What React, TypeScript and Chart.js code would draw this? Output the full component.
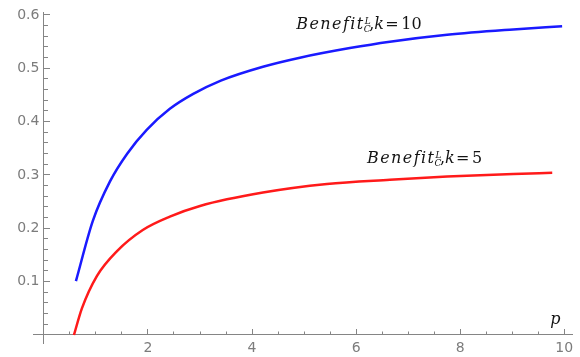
import React, { useEffect, useRef } from 'react';
import { Chart, registerables } from 'chart.js';

Chart.register(...registerables);

// ---- data ----
const pK10 = [0.615, 0.94, 1.27, 1.6, 1.98, 2.42, 2.87, 3.4, 4.21, 4.92, 5.88, 6.65, 7.75, 9.02, 9.96];
const benefitK10 = [0.101, 0.214, 0.288, 0.34, 0.385, 0.424, 0.452, 0.477, 0.503, 0.52, 0.538, 0.55, 0.563, 0.573, 0.579];

const pK5 = [0.577, 0.73, 1.02, 1.4, 1.9, 2.42, 3.0, 4.21, 5.44, 6.65, 7.75, 9.02, 9.77];
const benefitK5 = [0.0, 0.05, 0.111, 0.157, 0.197, 0.222, 0.242, 0.267, 0.283, 0.291, 0.297, 0.302, 0.304];

const xMajorTicks = [2, 4, 6, 8, 10];
const xTickLabels = ['2', '4', '6', '8', '10'];
const yMajorTicks = [0.1, 0.2, 0.3, 0.4, 0.5, 0.6];
const yTickLabels = ['0.1', '0.2', '0.3', '0.4', '0.5', '0.6'];

const seriesNumbers = ['10', '5'];
const axisTitle = 'p';

// ---- style / layout ----
const X_MIN = -0.21;
const X_MAX = 10.15;
const Y_MIN = -0.015;
const Y_MAX = 0.6056;
const AXIS_COLOR = '#858585';
const TICK_LABEL_COLOR = '#7c7c7c';
const TEXT_COLOR = '#141414';
const labelAnchors = [
  [4.85, 0.574],
  [6.21, 0.322],
];
const titleAnchor = [9.73, 0.0197];

function drawBenefit(ctx: CanvasRenderingContext2D, x: number, y: number, num: string) {
  const c: any = ctx;
  ctx.fillStyle = TEXT_COLOR;
  ctx.textAlign = 'left';
  ctx.textBaseline = 'alphabetic';
  ctx.font = 'italic 16px "DejaVu Serif"';
  c.letterSpacing = '0px';
  const w = ctx.measureText('Benefit').width;
  c.letterSpacing = ((68 - w) / 7).toFixed(2) + 'px';
  ctx.fillText('Benefit', x, y);
  c.letterSpacing = '0px';
  ctx.font = 'italic 9px "DejaVu Serif"';
  ctx.fillText('L', x + 68.5, y - 5);
  ctx.fillText('C', x + 67.5, y + 3);
  ctx.font = '16px "DejaVu Serif"';
  ctx.fillText(',', x + 73, y);
  ctx.font = 'italic 16px "DejaVu Serif"';
  ctx.fillText('k', x + 78, y);
  ctx.font = '16px "DejaVu Serif"';
  ctx.fillText('=', x + 89, y);
  ctx.fillText(num, x + 105, y);
}

const textPlugin = {
  id: 'mathText',
  afterDatasetsDraw(chart: any) {
    const ctx: CanvasRenderingContext2D = chart.ctx;
    const xs = chart.scales.x;
    const ys = chart.scales.y;
    ctx.save();
    labelAnchors.forEach((a, i) => {
      drawBenefit(ctx, xs.getPixelForValue(a[0]), ys.getPixelForValue(a[1]), seriesNumbers[i]);
    });
    ctx.font = 'italic 16px "DejaVu Serif"';
    ctx.fillStyle = TEXT_COLOR;
    ctx.textAlign = 'left';
    ctx.textBaseline = 'alphabetic';
    ctx.fillText(axisTitle, xs.getPixelForValue(titleAnchor[0]), ys.getPixelForValue(titleAnchor[1]));
    ctx.restore();
  },
};

const tickFont = { family: '"DejaVu Sans"', size: 14 };

const flatX = (s: any) => { s.height = 0; s.paddingLeft = 0; s.paddingRight = 0; s.paddingTop = 0; s.paddingBottom = 0; };
const flatY = (s: any) => { s.width = 0; s.paddingLeft = 0; s.paddingRight = 0; s.paddingTop = 0; s.paddingBottom = 0; };

export default function App() {
  const ref = useRef<HTMLCanvasElement | null>(null);
  useEffect(() => {
    if (!ref.current) return;
    const chart = new Chart(ref.current, {
      type: 'scatter',
      data: {
        datasets: [
          {
            data: pK10.map((p, i) => ({ x: p, y: benefitK10[i] })),
            borderColor: '#1a1aff',
            borderWidth: 2.5,
            showLine: true,
            pointRadius: 0,
            cubicInterpolationMode: 'monotone',
            xAxisID: 'x',
            yAxisID: 'y',
          },
          {
            data: pK5.map((p, i) => ({ x: p, y: benefitK5[i] })),
            borderColor: '#ff1a1a',
            borderWidth: 2.5,
            showLine: true,
            pointRadius: 0,
            cubicInterpolationMode: 'monotone',
            xAxisID: 'x',
            yAxisID: 'y',
          },
        ],
      },
      options: {
        animation: false,
        responsive: false,
        events: [],
        layout: { padding: { left: 33, right: 8, top: 12, bottom: 14 } },
        plugins: { legend: { display: false }, tooltip: { enabled: false } },
        scales: {
          x: {
            type: 'linear',
            axis: 'x',
            min: X_MIN,
            max: X_MAX,
            position: { y: 0 },
            afterFit: flatX,
            afterBuildTicks: (s: any) => { s.ticks = xMajorTicks.map((v) => ({ value: v })); },
            border: { display: true, color: AXIS_COLOR, width: 1 },
            grid: { drawOnChartArea: false, tickLength: -6, tickColor: AXIS_COLOR, tickWidth: 1 },
            ticks: {
              autoSkip: false,
              maxRotation: 0,
              padding: 11,
              color: TICK_LABEL_COLOR,
              font: tickFont,
              callback: (_v: any, i: number) => xTickLabels[i],
            },
          },
          xm: {
            type: 'linear',
            axis: 'x',
            min: X_MIN,
            max: X_MAX,
            position: { y: 0 },
            afterFit: flatX,
            border: { display: false },
            grid: { drawOnChartArea: false, tickLength: -3.5, tickColor: AXIS_COLOR, tickWidth: 1 },
            ticks: { stepSize: 0.5, includeBounds: false, autoSkip: false, display: false },
          },
          y: {
            type: 'linear',
            axis: 'y',
            min: Y_MIN,
            max: Y_MAX,
            position: { x: 0 },
            afterFit: flatY,
            afterBuildTicks: (s: any) => { s.ticks = yMajorTicks.map((v) => ({ value: v })); },
            border: { display: true, color: AXIS_COLOR, width: 1 },
            grid: { drawOnChartArea: false, tickLength: -7, tickColor: AXIS_COLOR, tickWidth: 1 },
            ticks: {
              autoSkip: false,
              padding: 0,
              color: TICK_LABEL_COLOR,
              font: tickFont,
              callback: (_v: any, i: number) => yTickLabels[i] + ' ',
            },
          },
          ym: {
            type: 'linear',
            axis: 'y',
            min: Y_MIN,
            max: Y_MAX,
            position: { x: 0 },
            afterFit: flatY,
            border: { display: false },
            grid: { drawOnChartArea: false, tickLength: -4, tickColor: AXIS_COLOR, tickWidth: 1 },
            ticks: { stepSize: 0.02, includeBounds: false, autoSkip: false, display: false },
          },
        },
      } as any,
      plugins: [textPlugin],
    });
    return () => chart.destroy();
  }, []);
  return (
    <div style={{ position: 'absolute', left: 0, top: 0, width: 580, height: 357, background: '#fff' }}>
      <canvas ref={ref} width={580} height={357} style={{ display: 'block' }} />
    </div>
  );
}
